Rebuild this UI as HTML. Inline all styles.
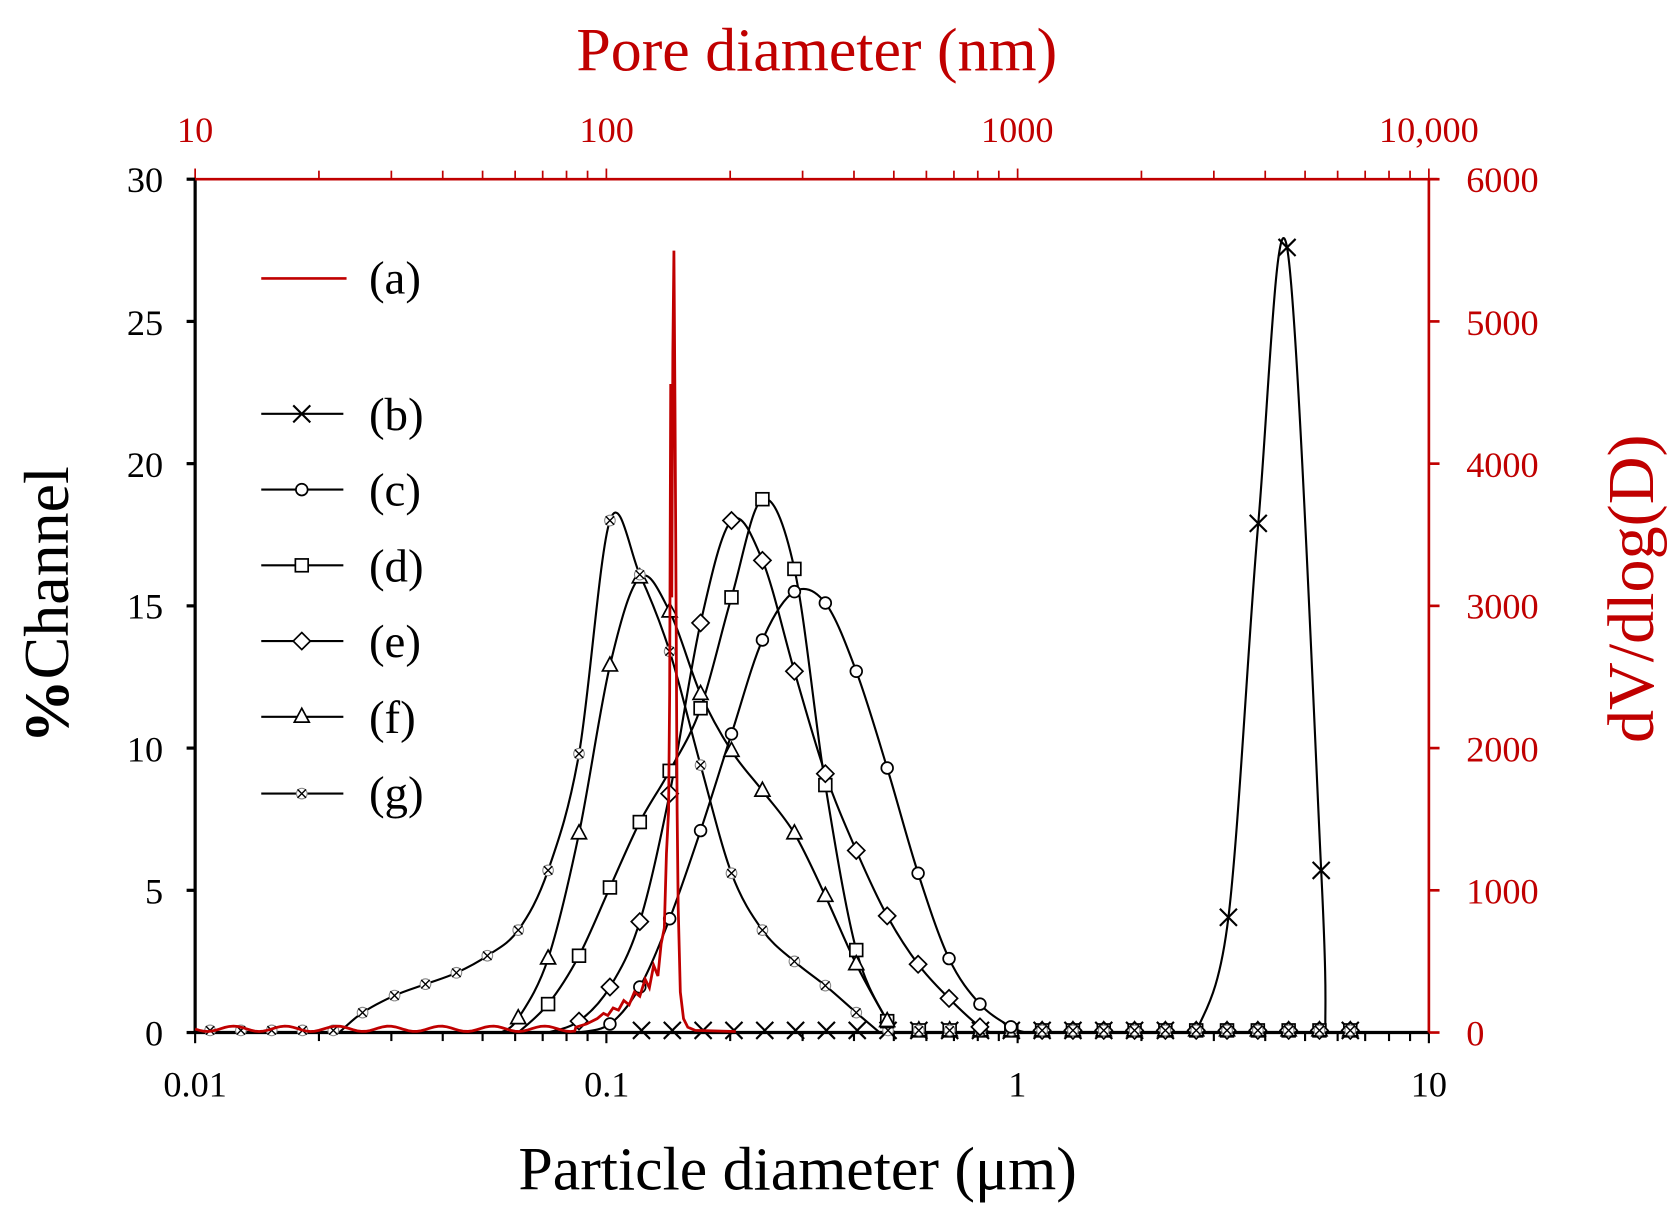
<!DOCTYPE html>
<html><head><meta charset="utf-8"><style>html,body{margin:0;padding:0;background:#fff}svg{display:block}</style></head>
<body>
<svg id="s" width="1672" height="1216" viewBox="0 0 1568 1140" preserveAspectRatio="none" xmlns="http://www.w3.org/2000/svg" font-family="Liberation Serif, serif">
<g id="ax"></g>
<g id="data"></g>
<g fill="#000" font-size="34" text-anchor="end">
<text x="153" y="180">30</text><text x="153" y="314">25</text><text x="153" y="447">20</text>
<text x="153" y="580">15</text><text x="153" y="714">10</text><text x="153" y="847">5</text><text x="153" y="980">0</text>
</g>
<g fill="#c00000" font-size="34" text-anchor="start">
<text x="1375" y="180">6000</text><text x="1375" y="314">5000</text><text x="1375" y="447">4000</text>
<text x="1375" y="580">3000</text><text x="1375" y="714">2000</text><text x="1375" y="847">1000</text><text x="1375" y="980">0</text>
</g>
<g fill="#000" font-size="34" text-anchor="middle">
<text x="183" y="1028">0.01</text><text x="569" y="1028">0.1</text><text x="954" y="1028">1</text><text x="1340" y="1028">10</text>
</g>
<g fill="#c00000" font-size="34" text-anchor="middle">
<text x="183" y="133">10</text><text x="569" y="133">100</text><text x="954" y="133">1000</text><text x="1340" y="133">10,000</text>
</g>
<text x="766" y="66" fill="#c00000" font-size="58" text-anchor="middle">Pore diameter (nm)</text>
<text x="748" y="1115" fill="#000" font-size="58" text-anchor="middle">Particle diameter (μm)</text>
<text transform="translate(64,567) rotate(-90)" font-size="60" text-anchor="middle"><tspan font-weight="bold">%</tspan>Channel</text>
<text transform="translate(1550,552) rotate(-90)" font-size="62" fill="#c00000" text-anchor="middle">dV/dlog(D)</text>
<g font-size="44" fill="#000">
<text x="346" y="275">(a)</text><text x="346" y="403">(b)</text><text x="346" y="474">(c)</text>
<text x="346" y="545">(d)</text><text x="346" y="616">(e)</text><text x="346" y="687">(f)</text><text x="346" y="758">(g)</text>
</g>
</svg>
<script>
const NS="http://www.w3.org/2000/svg";
const ax=document.getElementById('ax'),dg=document.getElementById('data');
function el(p,t,a){const e=document.createElementNS(NS,t);for(const k in a)e.setAttribute(k,a[k]);p.appendChild(e);return e;}
const L=183,R=1340,T=168,B=968,dec=(R-L)/3;
el(ax,'line',{x1:L,y1:B,x2:R,y2:B,stroke:'#000','stroke-width':3});
el(ax,'line',{x1:L,y1:T,x2:L,y2:B,stroke:'#000','stroke-width':3});
el(ax,'line',{x1:L,y1:T,x2:R+8,y2:T,stroke:'#c00000','stroke-width':2.5});
el(ax,'line',{x1:R,y1:T,x2:R,y2:B,stroke:'#c00000','stroke-width':2.5});
for(let d=0;d<3;d++)for(let m=1;m<=10;m++){
  if(m==1&&d>0)continue;
  const x=L+dec*(d+Math.log10(m));const major=(m==1||m==10);
  el(ax,'line',{x1:x,y1:B,x2:x,y2:B+(major?10:8),stroke:'#000','stroke-width':2});
  el(ax,'line',{x1:x,y1:T,x2:x,y2:T-(major?10:8),stroke:'#c00000','stroke-width':1.6});
}
for(let i=0;i<=6;i++){const y=B-i*800/6;
  el(ax,'line',{x1:L-8,y1:y,x2:L,y2:y,stroke:'#000','stroke-width':3});
  el(ax,'line',{x1:R,y1:y,x2:R+10,y2:y,stroke:'#c00000','stroke-width':2.5});}
function Y(v){return B-v*800/30;}
function smooth(pts){let d='M'+pts[0][0]+','+pts[0][1];
  for(let i=0;i<pts.length-1;i++){const p0=pts[i-1]||pts[i],p1=pts[i],p2=pts[i+1],p3=pts[i+2]||p2;
    d+=` C${p1[0]+(p2[0]-p0[0])/6},${p1[1]+(p2[1]-p0[1])/6} ${p2[0]-(p3[0]-p1[0])/6},${p2[1]-(p3[1]-p1[1])/6} ${p2[0]},${p2[1]}`;}
  return d;}
function marker(t,x,y){const g={stroke:'#000','stroke-width':1.6,fill:'#fff'};
  if(t=='x'){el(dg,'path',{d:`M${x-8},${y-8}L${x+8},${y+8}M${x-8},${y+8}L${x+8},${y-8}`,stroke:'#000','stroke-width':2});}
  else if(t=='o')el(dg,'circle',Object.assign({cx:x,cy:y,r:5.5},g));
  else if(t=='s')el(dg,'rect',Object.assign({x:x-6,y:y-6,width:12,height:12},g));
  else if(t=='d')el(dg,'path',Object.assign({d:`M${x},${y-8}L${x+8},${y}L${x},${y+8}L${x-8},${y}Z`},g));
  else if(t=='t')el(dg,'path',Object.assign({d:`M${x},${y-8}L${x+7},${y+5}L${x-7},${y+5}Z`},g));
  else if(t=='g'){el(dg,'circle',{cx:x,cy:y,r:5,fill:'#fff',stroke:'#888','stroke-width':1});
    el(dg,'path',{d:`M${x-4},${y-4}L${x+4},${y+4}M${x-4},${y+4}L${x+4},${y-4}`,stroke:'#000','stroke-width':1.3});}
}
const step=28.9;
const series=[
 ['x',[[1122,0],[1152,4.05],[1180,17.9],[1207,27.6],[1239,5.7],[1243,0]]],
 ['o',[[543,0],[572,0.3],[600,1.6],[628,4],[657,7.1],[686,10.5],[715,13.8],[745,15.5],[774,15.1],[803,12.7],[832,9.3],[861,5.6],[890,2.6],[919,1.0],[948,0.2],[962,0]]],
 ['s',[[486,0],[514,1.0],[543,2.7],[572,5.1],[600,7.4],[628,9.2],[657,11.4],[686,15.3],[715,18.75],[745,16.3],[774,8.7],[803,2.9],[832,0.4],[840,0]]],
 ['d',[[514,0],[543,0.4],[572,1.6],[600,3.9],[628,8.4],[657,14.4],[686,18],[715,16.6],[745,12.7],[774,9.1],[803,6.4],[832,4.1],[861,2.4],[890,1.2],[919,0.2],[930,0]]],
 ['t',[[470,0],[486,0.5],[514,2.6],[543,7],[572,12.9],[600,16.0],[628,14.8],[657,11.9],[686,9.9],[715,8.5],[745,7],[774,4.8],[803,2.4],[832,0.4],[838,0]]],
 ['g',[[318,0],[340,0.7],[370,1.3],[399,1.7],[428,2.1],[457,2.7],[486,3.6],[514,5.7],[543,9.8],[572,18],[600,16.1],[628,13.4],[657,9.4],[686,5.6],[715,3.6],[745,2.5],[774,1.65],[803,0.7],[825,0]]]
];
series.forEach(([t,pts])=>{
  el(dg,'path',{d:smooth(pts.map(p=>[p[0],Y(p[1])])),fill:'none',stroke:'#000','stroke-width':2});
});
const bm={x:[600,1270],o:[600,1000],s:[860,1270],d:[960,1270],t:[860,1270],g:[190,1270]};
series.forEach(([t,pts])=>{
  for(let k=-11;k<28;k++){const x=486+step*k;if(x<bm[t][0]||x>bm[t][1])continue;
    if(x>=pts[0][0]-2&&x<=pts[pts.length-1][0]+2)continue;marker(t,x,B-2);}
});
series.forEach(([t,pts])=>{pts.forEach((p,i)=>{if(i==0||i==pts.length-1)return;marker(t,p[0],Y(p[1]));});});
let rp=[];
for(let x=183;x<540;x+=4){rp.push([x,B-1-(Math.sin(x*1.7)+1)*2.5]);}
const rr=[[540,963],[550,960],[560,955],[566,950],[570,952],[575,945],[580,947],[585,938],[590,942],[595,930],[600,934],[605,918],[609,926],[613,905],[617,915],[620,885],[623,870],[625,800],[627,760],[628,650],[629,360],[630,560],[631,330],[632,235],[633,380],[634,560],[635,760],[636,850],[638,930],[641,955],[645,963],[652,966],[690,967]];
rp=rp.concat(rr);
el(dg,'polyline',{points:rp.map(p=>p.join(',')).join(' '),fill:'none',stroke:'#c00000','stroke-width':2.6});
el(dg,'line',{x1:245,y1:261,x2:325,y2:261,stroke:'#c00000','stroke-width':2.5});
[['x',388],['o',459],['s',530],['d',601],['t',672],['g',744]].forEach(([t,y])=>{
  el(dg,'line',{x1:245,y1:y,x2:322,y2:y,stroke:'#000','stroke-width':2});marker(t,283,y);});
</script>
</body></html>
